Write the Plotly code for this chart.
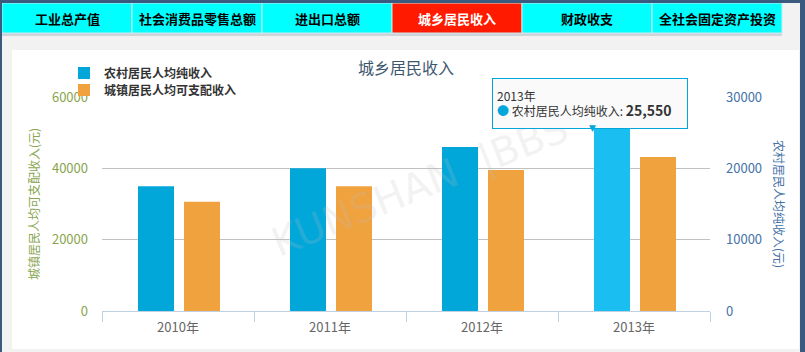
import plotly.graph_objects as go

# ---------------- data ----------------
years = ["2010年", "2011年", "2012年", "2013年"]
rural = [17500, 20000, 23000, 25550]          # 农村居民人均纯收入 (right axis)
urban = [30600, 35000, 39500, 43200]          # 城镇居民人均可支配收入 (left axis)
tabs = ["工业总产值", "社会消费品零售总额", "进出口总额", "城乡居民收入", "财政收支", "全社会固定资产投资"]
active_tab = 3
title = "城乡居民收入"
rural_name = "农村居民人均纯收入"
urban_name = "城镇居民人均可支配收入"
left_title = "城镇居民人均可支配收入(元)"
right_title = "农村居民人均纯收入(元)"
hover_index = 3

# ---------------- geometry helpers ----------------
FW, FH = 805, 352
L, R, T, B = 102, 710, 97, 311
W, H = R - L, B - T


def px(x):
    return (x - L) / W


def py(y):
    return (B - y) / H


FONT = "Noto Sans CJK SC, Open Sans, sans-serif"
BLUE = "#02a7da"
BLUE_HOVER = "#1bbef1"
ORANGE = "#f0a23e"
BORDER = "#3b5a7f"

blue_colors = [BLUE_HOVER if i == hover_index else BLUE for i in range(len(years))]

fig = go.Figure()
fig.add_trace(go.Bar(
    x=years, y=rural, name=f"<b>{rural_name}</b>", yaxis="y2", legend="legend",
    marker=dict(color=blue_colors, line=dict(width=0)),
    offset=-40 / 152, width=36 / 152,
))
fig.add_trace(go.Bar(
    x=years, y=urban, name=f"<b>{urban_name}</b>", yaxis="y", legend="legend2",
    marker=dict(color=ORANGE, line=dict(width=0)),
    offset=6 / 152, width=36 / 152,
))

shapes = []
# white panel
shapes.append(dict(type="rect", xref="paper", yref="paper", layer="below",
                   x0=px(12), x1=px(799), y0=py(349), y1=py(50),
                   fillcolor="white", line=dict(width=0)))
# strip under tabs
shapes.append(dict(type="rect", xref="paper", yref="paper", layer="below",
                   x0=px(2), x1=px(782), y0=py(36), y1=py(33),
                   fillcolor="#cfd4db", line=dict(width=0)))
# tabs
for i, t in enumerate(tabs):
    x0 = 2 + 130 * i
    shapes.append(dict(type="rect", xref="paper", yref="paper", layer="below",
                       x0=px(x0), x1=px(x0 + 130), y0=py(33), y1=py(3),
                       fillcolor="#ff1a00" if i == active_tab else "#00ffff",
                       line=dict(width=1, color="#cfe9ef")))
# dark frame
shapes.append(dict(type="rect", xref="paper", yref="paper", layer="below",
                   x0=px(0), x1=px(2), y0=py(FH), y1=py(0), fillcolor=BORDER, line=dict(width=0)))
shapes.append(dict(type="rect", xref="paper", yref="paper", layer="below",
                   x0=px(0), x1=px(FW), y0=py(3), y1=py(0), fillcolor=BORDER, line=dict(width=0)))
shapes.append(dict(type="rect", xref="paper", yref="paper", layer="below",
                   x0=px(800), x1=px(FW), y0=py(FH), y1=py(0), fillcolor=BORDER, line=dict(width=0)))
# legend background hides the start of the top gridline
shapes.append(dict(type="rect", xref="paper", yref="paper", layer="between",
                   x0=px(100), x1=px(252), y0=py(99), y1=py(95),
                   fillcolor="white", line=dict(width=0)))

annotations = []
for i, t in enumerate(tabs):
    annotations.append(dict(
        text=f"<b>{t}</b>", xref="paper", yref="paper",
        x=px(2 + 130 * i + 65), y=py(18), showarrow=False,
        font=dict(family=FONT, size=13, color="white" if i == active_tab else "black"),
        xanchor="center", yanchor="middle"))

# axis titles
annotations.append(dict(text=left_title, xref="paper", yref="paper", x=px(33), y=py(204),
                        textangle=-90, showarrow=False, xanchor="center", yanchor="middle",
                        font=dict(family=FONT, size=12, color="#89a54e")))
annotations.append(dict(text=right_title, xref="paper", yref="paper", x=px(780), y=py(204),
                        textangle=90, showarrow=False, xanchor="center", yanchor="middle",
                        font=dict(family=FONT, size=12, color="#4572a7")))

# watermark
annotations.append(dict(text="KUNSHAN  |BBS", xref="paper", yref="paper", x=px(420), y=py(185),
                        textangle=-22, showarrow=False, xanchor="center", yanchor="middle",
                        font=dict(family="DejaVu Sans", size=40, color="rgba(190,190,190,0.2)")))

# tooltip anchored to the hovered bar (category centre, shifted left)
tip_text = (f"{years[hover_index]}<br>"
            f"<span style='color:{BLUE}'>●</span> {rural_name}: "
            f"<b><span style='font-size:14px'>{rural[hover_index]:,}</span></b>")
annotations.append(dict(
    text=tip_text, x=years[hover_index], y=rural[hover_index], xref="x", yref="y2",
    showarrow=False, xanchor="center", yanchor="bottom", xshift=-44, yshift=0,
    align="left", width=186, height=41, borderpad=4,
    bgcolor="rgba(250,250,250,0.95)", bordercolor=BLUE, borderwidth=1,
    font=dict(family=FONT, size=12, color="#333")))
# tooltip pointer notch
annotations.append(dict(
    text="▼", x=years[hover_index], y=rural[hover_index], xref="x", yref="y2",
    showarrow=False, xanchor="center", yanchor="bottom", xshift=-42, yshift=-6,
    font=dict(family="DejaVu Sans", size=9, color=BLUE)))

legend_common = dict(xanchor="left", yanchor="middle", orientation="v",
                     bgcolor="rgba(0,0,0,0)", borderwidth=0,
                     font=dict(family=FONT, size=12, color="#333"),
                     itemclick=False, itemdoubleclick=False)

fig.update_layout(
    width=FW, height=FH,
    margin=dict(l=L, r=FW - R, t=T, b=FH - B, pad=0),
    paper_bgcolor="#f2f2f2", plot_bgcolor="rgba(0,0,0,0)",
    barmode="overlay",
    font=dict(family=FONT),
    title=dict(text=title, x=0.5, xref="paper", xanchor="center",
               y=1 - 68 / FH, yanchor="middle",
               font=dict(family=FONT, size=16, color="#3e576f")),
    xaxis=dict(type="category", tickson="boundaries", ticks="outside", ticklen=10,
               tickcolor="#c0d0e0", showline=True, linecolor="#c0d0e0", linewidth=1,
               showgrid=False, zeroline=False, ticklabelstandoff=4,
               tickfont=dict(family=FONT, size=13, color="#666")),
    yaxis=dict(range=[0, 60000], tick0=0, dtick=20000, tickformat="d",
               showgrid=True, gridcolor="#c0c0c0",
               gridwidth=1, zeroline=False, showline=False, ticks="",
               tickfont=dict(family=FONT, size=13, color="#89a54e"), ticklabelstandoff=13),
    yaxis2=dict(range=[0, 30000], tick0=0, dtick=10000, tickformat="d",
                overlaying="y", side="right",
                showgrid=False, zeroline=False, showline=False, ticks="",
                tickfont=dict(family=FONT, size=13, color="#4572a7"), ticklabelstandoff=15),
    legend=dict(x=px(64), y=py(73), **legend_common),
    legend2=dict(x=px(64), y=py(90), **legend_common),
    shapes=shapes, annotations=annotations, showlegend=True,
)

fig.write_html("out.html")
